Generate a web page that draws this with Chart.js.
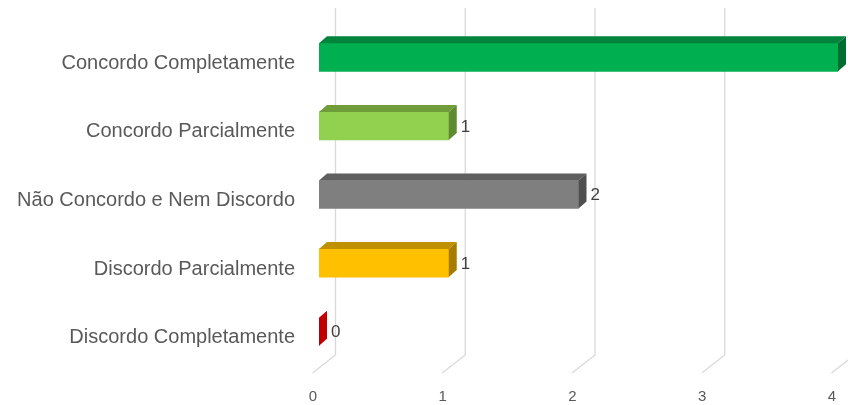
<!DOCTYPE html>
<html>
<head>
<meta charset="utf-8">
<script src="https://cdn.jsdelivr.net/npm/chart.js@4.4.1/dist/chart.umd.min.js"></script>
<style>
  html, body { margin: 0; padding: 0; background: #fff; }
  #wrap { width: 848px; height: 405px; }
</style>
</head>
<body>
<div id="wrap"><canvas id="chart" width="848" height="405"></canvas></div>
<script>
const categories = [
  "Concordo Completamente",
  "Concordo Parcialmente",
  "Não Concordo e Nem Discordo",
  "Discordo Parcialmente",
  "Discordo Completamente"
];
const counts = [4, 1, 2, 1, 0];
const xTicks = [0, 1, 2, 3, 4];

// front, top and side colour for each bar
const frontColors = ["#00b050", "#92d050", "#7f7f7f", "#ffc000", "#c00000"];
const topColors   = ["#00843c", "#709c3a", "#5f5f5f", "#bf9000", "#900000"];
const sideColors  = ["#006e32", "#5f8a30", "#4f4f4f", "#a67c00", "#a80000"];

// depth of the bars and of the back wall
const DX = 8, DY = -7;
const WALL_DX = 16.5, WALL_TOP = 8, WALL_BOTTOM = 355, FLOOR_Y = 373, FLOOR_DX = -6.5;

const FONT = "'Liberation Sans', Arial, sans-serif";

const wallGrid = {
  id: "wallGrid",
  beforeDatasetsDraw(chart) {
    const ctx = chart.ctx;
    const xs = chart.scales.x;
    ctx.save();
    ctx.strokeStyle = "#d9d9d9";
    ctx.lineWidth = 1.3;
    xTicks.forEach(v => {
      const px = xs.getPixelForValue(v);
      ctx.beginPath();
      ctx.moveTo(px + WALL_DX, WALL_TOP);
      ctx.lineTo(px + WALL_DX, WALL_BOTTOM);
      ctx.lineTo(px + FLOOR_DX, FLOOR_Y);
      ctx.stroke();
    });
    ctx.restore();
  }
};

const bars3d = {
  id: "bars3d",
  afterDatasetsDraw(chart) {
    const ctx = chart.ctx;
    const meta = chart.getDatasetMeta(0);
    ctx.save();
    meta.data.forEach((bar, i) => {
      const p = bar.getProps(["x", "y", "base", "height"], true);
      const top = p.y - p.height / 2, bot = p.y + p.height / 2;
      const left = Math.min(p.base, p.x), right = Math.max(p.base, p.x);

      // top face
      if (right > left) {
        ctx.fillStyle = topColors[i];
        ctx.beginPath();
        ctx.moveTo(left, top);
        ctx.lineTo(right, top);
        ctx.lineTo(right + DX, top + DY);
        ctx.lineTo(left + DX, top + DY);
        ctx.closePath();
        ctx.fill();
      }

      // side face
      ctx.fillStyle = right > left ? sideColors[i] : frontColors[i];
      ctx.beginPath();
      ctx.moveTo(right, top);
      ctx.lineTo(right + DX, top + DY);
      ctx.lineTo(right + DX, bot + DY);
      ctx.lineTo(right, bot);
      ctx.closePath();
      ctx.fill();

      // value label
      ctx.fillStyle = "#404040";
      ctx.font = "17px " + FONT;
      ctx.textAlign = "left";
      ctx.textBaseline = "middle";
      ctx.fillText(String(counts[i]), right + DX + 4, p.y + 1);
    });
    ctx.restore();
  }
};

new Chart(document.getElementById("chart"), {
  type: "bar",
  data: {
    labels: categories,
    datasets: [{
      data: counts,
      backgroundColor: frontColors,
      borderWidth: 0,
      barThickness: 28
    }]
  },
  options: {
    indexAxis: "y",
    responsive: false,
    animation: false,
    layout: { padding: { top: 23, right: 10, left: 0, bottom: 0 } },
    plugins: {
      legend: { display: false },
      tooltip: { enabled: false }
    },
    scales: {
      x: {
        min: 0,
        max: 4,
        grid: { display: false, drawTicks: false },
        border: { display: false },
        afterFit(scale) {
          scale.height = 39;
          scale.paddingLeft = 0;
          scale.paddingRight = 0;
        },
        ticks: {
          stepSize: 1,
          padding: 22,
          labelOffset: -6,
          color: "#595959",
          font: { family: FONT, size: 15 }
        }
      },
      y: {
        grid: { display: false, drawTicks: false },
        border: { display: false },
        afterFit(scale) {
          scale.width = 319;
          scale.paddingTop = 0;
          scale.paddingBottom = 0;
        },
        ticks: {
          padding: 24,
          labelOffset: 6,
          color: "#595959",
          font: { family: FONT, size: 20 }
        }
      }
    }
  },
  plugins: [wallGrid, bars3d]
});
</script>
</body>
</html>
